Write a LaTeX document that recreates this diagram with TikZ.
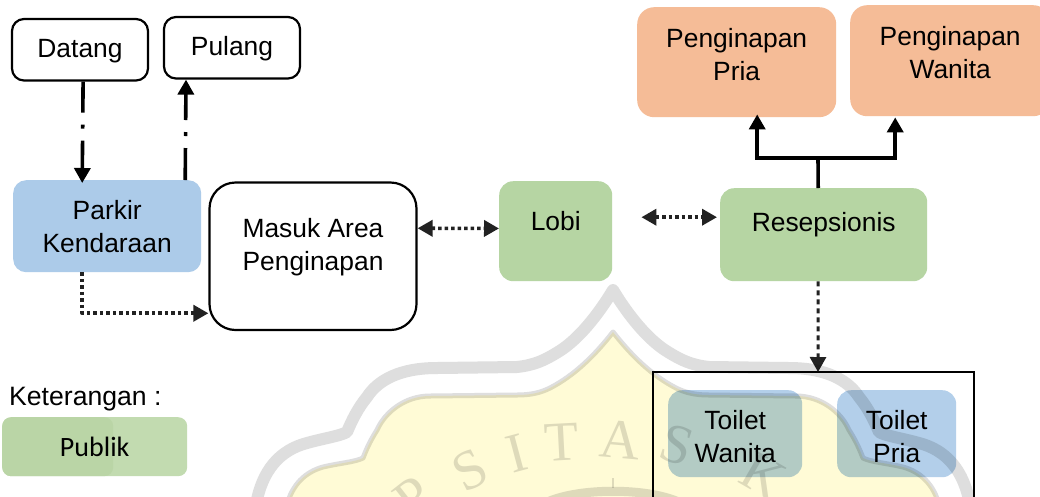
\documentclass[tikz,border=0pt]{standalone}
\usepackage{fontspec}
\setmainfont{Liberation Sans}
\newfontfamily\calfont{Carlito}
\newfontfamily\wmfont{Liberation Serif}
\usetikzlibrary{arrows.meta}
\definecolor{bluefill}{HTML}{ACCBE9}
\definecolor{toiletblue}{HTML}{B3CFEA}
\definecolor{greenfill}{HTML}{B6D5A3}
\definecolor{legendgreen}{HTML}{C2DBB0}
\definecolor{legenddark}{HTML}{BAD5A6}
\definecolor{orangefill}{HTML}{F5BC97}
\definecolor{wmgrey}{HTML}{DEDEDE}
\definecolor{wmyellow}{HTML}{FFFBD6}
\definecolor{darkline}{HTML}{222222}
\tikzset{
  box/.style={rounded corners=#1,inner sep=0pt,anchor=north west},
  box/.default=12pt,
  boxtext/.style={align=center,inner sep=0pt,font=\fontsize{26.4}{33}\selectfont},
  outlined/.style={draw,line width=2.2pt},
  solidhead/.style={-{Triangle[length=15pt,width=16pt]}},
  thickline/.style={line width=3.6pt},
  dotline/.style={line width=3.6pt,dash pattern=on 3.5pt off 3pt,draw=darkline},
  dashdot/.style={line width=3.6pt,dash pattern=on 31pt off 12pt on 4pt off 12pt},
  dotarrow/.style={-{Triangle[length=15pt,width=16pt]}},
  dotboth/.style={{Triangle[length=15pt,width=16pt]}-{Triangle[length=15pt,width=16pt]}},
  wmletter/.style={text=wmgrey,font=\wmfont\fontsize{56}{56}\selectfont}
}
\begin{document}
\begin{tikzpicture}[x=1pt,y=-1pt]
\clip (0,0) rectangle (1040,496);
\fill[white] (0,0) rectangle (1040,496);
% boxes
\node[box,outlined,minimum width=136pt,minimum height=61.5pt,label={[boxtext,yshift=-1pt]center:Datang}] (datang) at (10.9,17.9) {};
\node[box,outlined,minimum width=136pt,minimum height=61.5pt,label={[boxtext,yshift=-1pt]center:Pulang}] (pulang) at (162.9,15.9) {};
\node[box=13pt,fill=bluefill,minimum width=188pt,minimum height=92pt,label={[boxtext]center:Parkir\\Kendaraan}] (parkir) at (13,180) {};
\node[box=26pt,outlined,minimum width=207pt,minimum height=147.5pt,label={[boxtext,yshift=9pt]center:Masuk Area\\Penginapan}] (masuk) at (208.4,181.4) {};
\node[box=14pt,fill=greenfill,minimum width=113pt,minimum height=100pt,label={[boxtext,yshift=10pt]center:Lobi}] (lobi) at (499,181) {};
\node[box=14pt,fill=greenfill,minimum width=207pt,minimum height=93pt,label={[boxtext,yshift=10pt]center:Resepsionis}] (resepsi) at (720,188) {};
\node[box=17pt,fill=orangefill,minimum width=199pt,minimum height=110pt,label={[boxtext,yshift=8pt]center:Penginapan\\Pria}] (pria) at (637,7) {};
\node[box=17pt,fill=orangefill,minimum width=200pt,minimum height=111pt,label={[boxtext,yshift=8pt]center:Penginapan\\Wanita}] (wanita) at (850,5) {};
% toilets group
\node[draw,line width=1.8pt,minimum width=321pt,minimum height=140pt,inner sep=0pt,anchor=north west] (frame) at (652.1,371.1) {};
\node[box=14pt,fill=toiletblue,minimum width=134pt,minimum height=87pt,label={[boxtext,yshift=-3pt]center:Toilet\\Wanita}] (twanita) at (668,390) {};
\node[box=14pt,fill=toiletblue,minimum width=119pt,minimum height=87pt,label={[boxtext,yshift=-3pt]center:Toilet\\Pria}] (tpria) at (837,390) {};
% legend
\node[anchor=west,inner sep=0pt,font=\fontsize{26.6}{30}\selectfont] (ket) at (9,399) {Keterangan :};
\node[box=9pt,fill=legendgreen,minimum width=185pt,minimum height=59pt,
  path picture={\fill[legenddark] (path picture bounding box.north west) rectangle ([xshift=-74pt]path picture bounding box.south east);},
  label={[inner sep=0pt,font=\calfont\fontsize{28}{30}\selectfont]center:Publik}] (publik) at (2,417) {};
% connectors
\draw[thickline,dashdot,solidhead] ([xshift=3.1pt]datang.south) -- ([xshift=-25pt,yshift=-3pt]parkir.north);
\draw[thickline,dash pattern=on 32pt off 12pt on 4pt off 12pt,solidhead] ([xshift=78pt]parkir.north) -- ([xshift=-46pt]pulang.south);
\draw[dotline,dotarrow,line join=round] ([xshift=-25pt]parkir.south) |- ([yshift=-57pt]masuk.west);
\draw[dotline,dotboth] ([yshift=28pt]masuk.east) -- ([yshift=2.75pt]lobi.west);
\coordinate (lobiR) at ([xshift=29pt,yshift=14pt]lobi.east);
\coordinate (resL) at ([xshift=-3pt,yshift=17.5pt]resepsi.west);
\draw[dotline,dotboth] (lobiR) -- (resL);
\coordinate (junc) at (818,158);
\draw[thickline] ([xshift=-5.5pt]resepsi.north) -- (junc);
\draw[thickline,solidhead] (junc) -| ([xshift=20.5pt,yshift=3pt]pria.south);
\draw[line width=4pt,solidhead] (junc) -| ([xshift=-55pt,yshift=-1pt]wanita.south);
\draw[line width=3pt,draw=darkline,dash pattern=on 5pt off 4pt,dotarrow] ([xshift=-5.5pt]resepsi.south) -- (818,372);
% watermark, laid over everything like a multiplied image
\begin{scope}[blend mode=multiply]
\fill[wmyellow]
  (287,505) .. controls (292,485) and (305,472) .. (323,467)
  .. controls (340,463) and (355,462) .. (363,458)
  .. controls (368,445) and (372,438) .. (377,430)
  .. controls (385,412) and (405,396) .. (430,396)
  -- (517,395) .. controls (530,395) and (540,393) .. (550,388)
  .. controls (575,375) and (595,355) .. (613,332)
  .. controls (631,355) and (651,375) .. (676,388)
  .. controls (686,393) and (696,395) .. (709,395)
  -- (796,396) .. controls (821,396) and (841,412) .. (849,430)
  .. controls (854,438) and (858,445) .. (863,458)
  .. controls (871,462) and (886,463) .. (903,467)
  .. controls (921,472) and (934,485) .. (939,505) -- cycle;
\draw[wmgrey,line width=5pt,line join=round]
  (287,505) .. controls (292,485) and (305,472) .. (323,467)
  .. controls (340,463) and (355,462) .. (363,458)
  .. controls (368,445) and (372,438) .. (377,430)
  .. controls (385,412) and (405,396) .. (430,396)
  -- (517,395) .. controls (530,395) and (540,393) .. (550,388)
  .. controls (575,375) and (595,355) .. (613,332)
  .. controls (631,355) and (651,375) .. (676,388)
  .. controls (686,393) and (696,395) .. (709,395)
  -- (796,396) .. controls (821,396) and (841,412) .. (849,430)
  .. controls (854,438) and (858,445) .. (863,458)
  .. controls (871,462) and (886,463) .. (903,467)
  .. controls (921,472) and (934,485) .. (939,505);
\draw[wmgrey,line width=12pt,line join=round]
  (256,505) .. controls (262,470) and (280,450) .. (307,443)
  .. controls (325,438) and (340,436) .. (347,432)
  .. controls (352,420) and (358,408) .. (367,397)
  .. controls (378,380) and (400,368) .. (437,368)
  -- (517,367) .. controls (535,365) and (545,360) .. (558,352)
  .. controls (578,340) and (598,315) .. (613,290)
  .. controls (628,315) and (648,340) .. (668,352)
  .. controls (681,360) and (691,365) .. (709,367)
  -- (789,368) .. controls (826,368) and (848,380) .. (859,397)
  .. controls (868,408) and (874,420) .. (879,432)
  .. controls (886,436) and (901,438) .. (919,443)
  .. controls (946,450) and (964,470) .. (970,505);
\node[wmletter,rotate=38] (wmP) at (413,497) {P};
\node[wmletter,rotate=27] (wmS) at (470,470) {S};
\node[wmletter,rotate=15] (wmI) at (517,453) {I};
\node[wmletter,rotate=3] (wmT) at (562,442) {T};
\node[wmletter,rotate=-5] (wmA) at (620,440) {A};
\node[wmletter,rotate=-18] (wmS2) at (677,445) {S};
\node[wmletter,rotate=-30] (wmK) at (763,476) {K};
\draw[wmgrey,line width=9pt] (535,510) .. controls (560,485) and (666,485) .. (691,510);
\draw[wmgrey,line width=2pt] (613,478) -- (613,488);
\end{scope}
\end{tikzpicture}
\end{document}
